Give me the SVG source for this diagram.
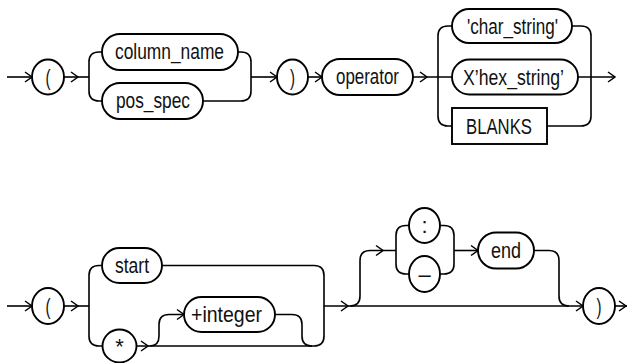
<svg xmlns="http://www.w3.org/2000/svg" xmlns:xlink="http://www.w3.org/1999/xlink" width="627" height="363" viewBox="0 0 627 363">
<style>
.b{fill:#fff;stroke:#000;stroke-width:1.9}
.l{fill:none;stroke:#000;stroke-width:1.6}
.t{font-family:"Liberation Sans",Arial,sans-serif;font-size:22px;fill:#111}
.c{font-family:"Liberation Sans",Arial,sans-serif;font-size:22px;fill:#111;text-anchor:middle}
</style>
<defs>
<path id="ah" d="M-7,-5 L0,0 L-7,5" fill="none" stroke="#000" stroke-width="1.5"/>
</defs>
<rect width="627" height="363" fill="#fff"/>
<g id="connectors">
<!-- top row -->
<path class="l" d="M7,77 H32"/>
<path class="l" d="M64,77 H89"/>
<path class="l" d="M102,52 H99 Q89,52 89,62 V91 Q89,101 99,101 H102"/>
<path class="l" d="M238,52 H241 Q251,52 251,62 V91 Q251,101 241,101 H203"/>
<path class="l" d="M251,77 H277"/>
<path class="l" d="M308,77 H322"/>
<path class="l" d="M413,77 H452"/>
<path class="l" d="M452,26 H448 Q438,26 438,36 V116 Q438,126 448,126 H452"/>
<path class="l" d="M572,26 H581 Q591,26 591,36 V116 Q591,126 581,126 H547"/>
<path class="l" d="M578,77 H615"/>
<use xlink:href="#ah" x="32" y="77"/>
<use xlink:href="#ah" x="78" y="77"/>
<use xlink:href="#ah" x="277" y="77"/>
<use xlink:href="#ah" x="322" y="77"/>
<use xlink:href="#ah" x="427" y="77"/>
<use xlink:href="#ah" x="615" y="77"/>
<!-- bottom row -->
<path class="l" d="M7,306 H32"/>
<path class="l" d="M64,306 H89"/>
<path class="l" d="M102,265.5 H99 Q89,265.5 89,275.5 V336 Q89,346 99,346 H102"/>
<path class="l" d="M162,265.5 H314 Q324,265.5 324,275.5 V336 Q324,346 314,346 H137"/>
<path class="l" d="M150,346 Q159,346 159,336 V324.5 Q159,314.5 169,314.5 H184"/>
<path class="l" d="M275,314.5 H292 Q302,314.5 302,324.5 V336 Q302,346 312,346"/>
<path class="l" d="M324,306 H583"/>
<path class="l" d="M350,306 Q360,306 360,296 V260.5 Q360,250.5 370,250.5 H396"/>
<path class="l" d="M409,225.5 H406 Q396,225.5 396,235.5 V264 Q396,274 406,274 H409"/>
<path class="l" d="M440,225.5 H444 Q454,225.5 454,235.5 V264 Q454,274 444,274 H440"/>
<path class="l" d="M454,250.5 H478"/>
<path class="l" d="M534,250.5 H549 Q559,250.5 559,260.5 V296 Q559,306 569,306"/>
<path class="l" d="M615,306 H627"/>
<use xlink:href="#ah" x="32" y="306"/>
<use xlink:href="#ah" x="78" y="306"/>
<use xlink:href="#ah" x="148" y="346"/>
<use xlink:href="#ah" x="184" y="314.5"/>
<use xlink:href="#ah" x="348" y="306"/>
<use xlink:href="#ah" x="383" y="250.5"/>
<use xlink:href="#ah" x="478" y="250.5"/>
<use xlink:href="#ah" x="583" y="306"/>
<use xlink:href="#ah" x="626" y="306"/>
</g>
<g id="lparen1"><ellipse class="b" cx="48" cy="77" rx="16" ry="17.5"/><text class="c" x="48" y="84.5" textLength="5" lengthAdjust="spacingAndGlyphs">(</text></g>
<g id="column_name"><rect class="b" x="102" y="34" width="136" height="36" rx="18"/><text class="t" x="115" y="59" textLength="109" lengthAdjust="spacingAndGlyphs">column_name</text></g>
<g id="pos_spec"><rect class="b" x="102" y="83" width="101" height="36" rx="18"/><text class="t" x="116" y="108" textLength="74" lengthAdjust="spacingAndGlyphs">pos_spec</text></g>
<g id="rparen1"><ellipse class="b" cx="292.5" cy="77" rx="15.5" ry="17.5"/><text class="c" x="292.5" y="84.5" textLength="5" lengthAdjust="spacingAndGlyphs">)</text></g>
<g id="operator"><rect class="b" x="322" y="59" width="91" height="36" rx="18"/><text class="t" x="336" y="84" textLength="63" lengthAdjust="spacingAndGlyphs">operator</text></g>
<g id="char_string"><rect class="b" x="452" y="9" width="120" height="34" rx="17"/><text class="t" x="467" y="33.5" textLength="91" lengthAdjust="spacingAndGlyphs">'char_string'</text></g>
<g id="hex_string"><rect class="b" x="452" y="59.5" width="126" height="35" rx="17.5"/><text class="t" x="463" y="84.5" textLength="101" lengthAdjust="spacingAndGlyphs">X’hex_string’</text></g>
<g id="blanks"><rect class="b" x="452" y="108" width="95" height="36"/><text class="t" x="466" y="134" textLength="66" lengthAdjust="spacingAndGlyphs">BLANKS</text></g>
<g id="lparen2"><ellipse class="b" cx="48" cy="306" rx="16" ry="18"/><text class="c" x="48" y="313.5" textLength="5" lengthAdjust="spacingAndGlyphs">(</text></g>
<g id="start"><rect class="b" x="102" y="248" width="60" height="35" rx="17.5"/><text class="t" x="115" y="273" textLength="34" lengthAdjust="spacingAndGlyphs">start</text></g>
<g id="star"><ellipse class="b" cx="119.5" cy="346" rx="17" ry="16.5"/><text class="c" x="119.5" y="353.5">*</text></g>
<g id="integer"><rect class="b" x="184" y="297" width="91" height="35" rx="17.5"/><text class="t" x="191" y="322" textLength="71" lengthAdjust="spacingAndGlyphs">+integer</text></g>
<g id="colon"><ellipse class="b" cx="424.5" cy="225.5" rx="15.5" ry="17.5"/><text class="c" x="424.5" y="232.5">:</text></g>
<g id="dash"><ellipse class="b" cx="424.5" cy="274" rx="15.5" ry="18"/><text class="c" x="424.5" y="281.5">–</text></g>
<g id="end"><rect class="b" x="478" y="232.5" width="56" height="36" rx="18"/><text class="t" x="491" y="258" textLength="30" lengthAdjust="spacingAndGlyphs">end</text></g>
<g id="rparen2"><ellipse class="b" cx="599" cy="306" rx="16" ry="18"/><text class="c" x="599" y="313.5" textLength="5" lengthAdjust="spacingAndGlyphs">)</text></g>
</svg>
